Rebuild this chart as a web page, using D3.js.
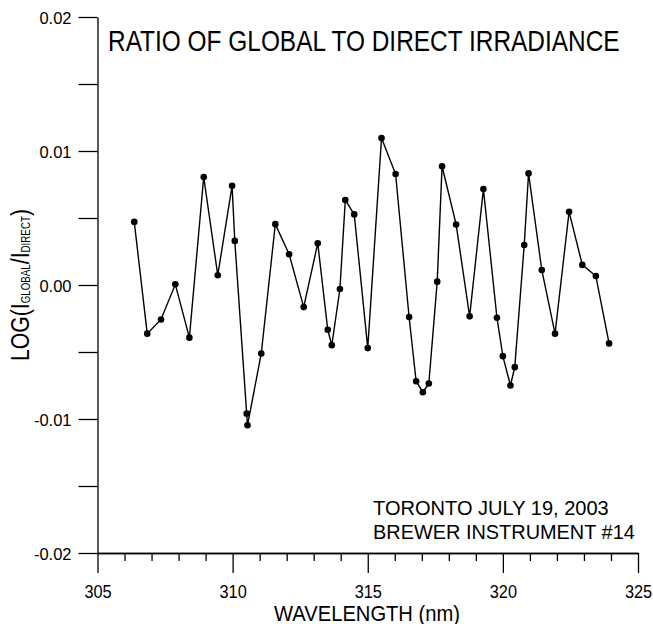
<!DOCTYPE html>
<html>
<head>
<meta charset="utf-8">
<script src="https://cdn.jsdelivr.net/npm/d3@7"></script>
<style>
	body { margin: 0; background: #fff; }
	svg { display: block; font-family: "Liberation Sans", Arial, sans-serif; }
</style>
</head>
<body>
<svg id="chart" width="653" height="624"></svg>
<script>
// wavelength (nm) of each reading
var wavelengths = [
	306.36, 306.84, 307.35, 307.88, 308.40, 308.93, 309.45, 309.98, 310.08, 310.52,
	310.55, 311.06, 311.58, 312.09, 312.63, 313.15, 313.52, 313.67, 313.97, 314.17,
	314.50, 315.00, 315.51, 316.03, 316.53, 316.79, 317.04, 317.26, 317.57, 317.75,
	318.27, 318.77, 319.28, 319.78, 320.00, 320.28, 320.44, 320.79, 320.95, 321.44,
	321.93, 322.45, 322.94, 323.44, 323.93
];

// log(I global / I direct)
var ratios = [
	0.00471, -0.00363, -0.00257, 0.00005, -0.00393, 0.00806, 0.00073, 0.00740, 0.00329, -0.00960,
	-0.01047, -0.00511, 0.00454, 0.00230, -0.00165, 0.00312, -0.00334, -0.00449, -0.00030, 0.00634,
	0.00527, -0.00471, 0.01097, 0.00828, -0.00239, -0.00718, -0.00800, -0.00735, 0.00025, 0.00886,
	0.00452, -0.00234, 0.00716, -0.00244, -0.00531, -0.00750, -0.00613, 0.00299, 0.00833, 0.00112,
	-0.00363, 0.00546, 0.00150, 0.00067, -0.00436
];

var xMajorTicks = [305, 310, 315, 320, 325];
var xMinorTicks = d3.range(306, 325).filter(d => d % 5 !== 0);
var yTicks = [-0.02, -0.015, -0.01, -0.005, 0, 0.005, 0.01, 0.015, 0.02];
var yLabels = ["-0.02", "", "-0.01", "", "0.00", "", "0.01", "", "0.02"];

var titleText = "RATIO OF GLOBAL TO DIRECT IRRADIANCE";
var noteLines = ["TORONTO JULY 19, 2003", "BREWER INSTRUMENT #14"];

// squeeze a text horizontally (the original uses a narrow font)
function squeeze(text, width, before) {
	const s = width / text.node().getComputedTextLength();
	text.attr("transform", `${before} scale(${s},1)`);
}

window.addEventListener("DOMContentLoaded", () => {
	const svg = d3.select("#chart");
	const x = d3.scaleLinear().domain([305, 325]).range([97.5, 638]);
	const y = d3.scaleLinear().domain([-0.02, 0.02]).range([553, 17]);

	// y axis, ticks pointing left
	svg.append("g")
		.attr("class", "y-axis")
		.attr("transform", `translate(${x(305)},0)`)
		.call(d3.axisLeft(y)
			.tickValues(yTicks)
			.tickSize(19)
			.tickSizeOuter(0)
			.tickPadding(7)
			.tickFormat((d, i) => yLabels[i]));

	// x axis: minor ticks first, then the major ones with labels
	svg.append("g")
		.attr("transform", `translate(0,${y(-0.02)})`)
		.call(d3.axisBottom(x)
			.tickValues(xMinorTicks)
			.tickSize(8)
			.tickSizeOuter(0)
			.tickFormat(""));
	svg.append("g")
		.attr("class", "x-axis")
		.attr("transform", `translate(0,${y(-0.02)})`)
		.call(d3.axisBottom(x)
			.tickValues(xMajorTicks)
			.tickSize(20)
			.tickSizeOuter(0)
			.tickPadding(12)
			.tickFormat(d3.format("d")));

	svg.selectAll(".domain, .tick line")
		.attr("stroke", "#000")
		.attr("stroke-width", 1.3);
	svg.selectAll(".tick text")
		.attr("fill", "#000")
		.style("font-family", "'Liberation Sans', Arial, sans-serif");
	svg.selectAll(".y-axis .tick text")
		.style("font-size", "16.5px")
		.attr("dy", "0.38em");
	svg.selectAll(".x-axis .tick text")
		.style("font-size", "19px")
		.attr("transform", "scale(0.86,1)");

	// data line and markers
	const points = wavelengths.map((w, i) => [w, ratios[i]]);
	svg.append("path")
		.datum(points)
		.attr("fill", "none")
		.attr("stroke", "#000")
		.attr("stroke-width", 1.4)
		.attr("d", d3.line().x(d => x(d[0])).y(d => y(d[1])));
	svg.append("g")
		.selectAll("circle")
		.data(points)
		.join("circle")
		.attr("cx", d => x(d[0]))
		.attr("cy", d => y(d[1]))
		.attr("r", 3.3)
		.attr("fill", "#000");

	// title
	const title = svg.append("text")
		.style("font-size", "29px")
		.text(titleText);
	squeeze(title, 512, "translate(108,51)");

	// note in lower right
	noteLines.forEach((line, i) => {
		const t = svg.append("text")
			.style("font-size", "21px")
			.text(line);
		squeeze(t, i === 0 ? 236 : 262, `translate(373,${515 + i * 23.5})`);
	});

	// x axis title
	const xTitle = svg.append("text")
		.attr("text-anchor", "middle")
		.style("font-size", "22px")
		.text("WAVELENGTH (nm)");
	squeeze(xTitle, 186, "translate(367,621)");

	// y axis title with subscripts
	const yTitle = svg.append("text")
		.attr("text-anchor", "middle")
		.style("font-size", "26px");
	yTitle.append("tspan").text("LOG(I");
	yTitle.append("tspan").attr("dy", 1).style("font-size", "12px").text("GLOBAL");
	yTitle.append("tspan").attr("dy", -1).text("/I");
	yTitle.append("tspan").attr("dy", 1).style("font-size", "12px").text("DIRECT");
	yTitle.append("tspan").attr("dy", -1).text(")");
	squeeze(yTitle, 152, `translate(29,${y(0)}) rotate(-90)`);
});
</script>
</body>
</html>
